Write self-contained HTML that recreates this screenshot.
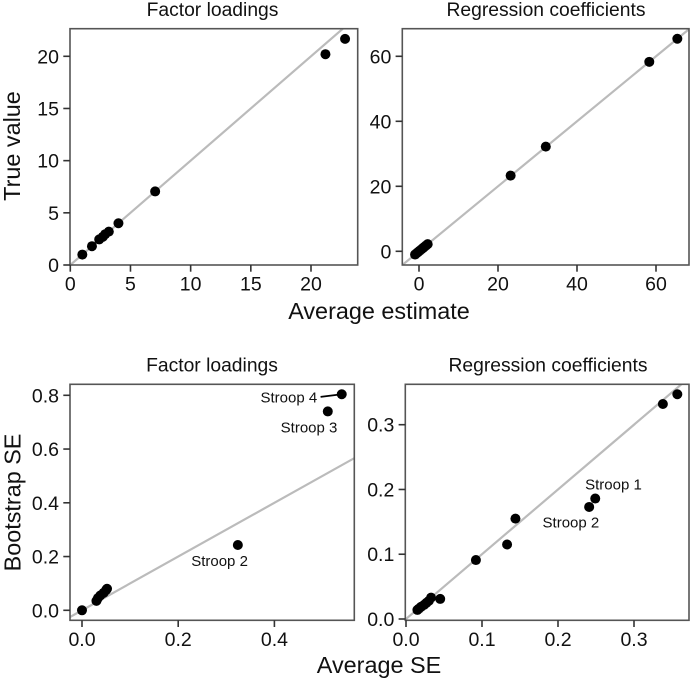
<!DOCTYPE html>
<html lang="en">
<head>
<meta charset="utf-8">
<title>Estimate comparison scatter plots</title>
<style>
html,body{margin:0;padding:0;background:#fff;}
svg{display:block;}
text{font-family:"Liberation Sans",Arial,sans-serif;fill:#111;}
</style>
</head>
<body>
<svg id="chart" xmlns="http://www.w3.org/2000/svg" width="690" height="681" viewBox="0 0 690 681">
<rect width="690" height="681" fill="#fff"/>
<text x="20" y="146" transform="rotate(-90 20 146)" text-anchor="middle" font-size="23.4">True value</text>
<text x="379" y="319" text-anchor="middle" font-size="23.4">Average estimate</text>
<text x="20.5" y="502.5" transform="rotate(-90 20.5 502.5)" text-anchor="middle" font-size="23.4">Bootstrap SE</text>
<text x="379" y="673" text-anchor="middle" font-size="23.4">Average SE</text>
</svg>
<script>
const loadingsEstimateX = [1, 1.8, 2.4, 2.7, 2.9, 3.2, 4, 7.05, 21.2, 22.83];
const loadingsEstimateY = [1, 1.8, 2.45, 2.7, 2.95, 3.2, 4, 7.05, 20.2, 21.67];
const loadingsEstimateXTicks = [0, 5, 10, 15, 20];
const loadingsEstimateYTicks = [0, 5, 10, 15, 20];

const coefEstimateX = [-1, -0.6, -0.2, 0.2, 0.6, 1, 1.4, 1.8, 2.2, 23.2, 32.1, 58.3, 65.4];
const coefEstimateY = [-1, -0.6, -0.2, 0.2, 0.6, 1, 1.4, 1.8, 2.2, 23.3, 32.2, 58.3, 65.4];
const coefEstimateXTicks = [0, 20, 40, 60];
const coefEstimateYTicks = [0, 20, 40, 60];

const loadingsSeX = [0, 0.03, 0.033, 0.038, 0.045, 0.05, 0.052, 0.324, 0.511, 0.54];
const loadingsSeY = [0, 0.035, 0.045, 0.055, 0.065, 0.075, 0.08, 0.243, 0.74, 0.804];
const loadingsSeXTicks = ["0.0", "0.2", "0.4"];
const loadingsSeYTicks = ["0.0", "0.2", "0.4", "0.6", "0.8"];
const loadingsSeLabels = ["Stroop 2", "Stroop 3", "Stroop 4"];
const loadingsSeLabelX = [0.286, 0.472, 0.43];
const loadingsSeLabelY = [0.165, 0.661, 0.774];

const coefSeX = [0.015, 0.017, 0.02, 0.024, 0.027, 0.03, 0.033, 0.045, 0.092, 0.133, 0.144, 0.241, 0.249, 0.338, 0.357];
const coefSeY = [0.014, 0.016, 0.019, 0.022, 0.025, 0.028, 0.033, 0.031, 0.091, 0.115, 0.155, 0.173, 0.186, 0.332, 0.347];
const coefSeXTicks = ["0.0", "0.1", "0.2", "0.3"];
const coefSeYTicks = ["0.0", "0.1", "0.2", "0.3"];
const coefSeLabels = ["Stroop 1", "Stroop 2"];
const coefSeLabelX = [0.273, 0.217];
const coefSeLabelY = [0.2, 0.141];

const NS = 'http://www.w3.org/2000/svg';
const svg = document.getElementById('chart');

function make(tag, attrs, parent) {
  const el = document.createElementNS(NS, tag);
  for (const k in attrs) el.setAttribute(k, attrs[k]);
  parent.appendChild(el);
  return el;
}

function linearScale(v0, p0, v1, p1) {
  return function (v) { return p0 + (v - v0) * (p1 - p0) / (v1 - v0); };
}

function drawPanel(cfg) {
  const g = make('g', {}, svg);
  
  
  const sx = cfg.sx, sy = cfg.sy, b = cfg.box;

  const title = make('text', { x: cfg.titleX, y: cfg.titleY, 'text-anchor': 'middle', 'font-size': 19.3 }, g);
  title.textContent = cfg.title;
  
  

  const clipId = cfg.name + '-clip';
  const defs = make('defs', {}, g);
  const clip = make('clipPath', { id: clipId }, defs);
  make('rect', { x: b.l, y: b.t, width: b.r - b.l, height: b.b - b.t }, clip);

  const vL = cfg.invX(b.l), vR = cfg.invX(b.r);
  const ref = make('line', {
    x1: sx(vL), y1: sy(vL), x2: sx(vR), y2: sy(vR),
    stroke: '#bbb', 'stroke-width': 2.2, 'clip-path': 'url(#' + clipId + ')'
  }, g);
  
  

  cfg.xs.forEach(function (x, i) {
    const pt = make('circle', { cx: sx(x), cy: sy(cfg.ys[i]), r: 5, fill: '#000' }, g);
    
    
  });

  const frame = make('rect', {
    x: b.l, y: b.t, width: b.r - b.l, height: b.b - b.t,
    fill: 'none', stroke: '#555', 'stroke-width': 1.6
  }, g);
  
  

  cfg.xTicks.forEach(function (t) {
    const px = sx(Number(t));
    const tick = make('line', { x1: px, y1: b.b, x2: px, y2: b.b + 6.7, stroke: '#333', 'stroke-width': 1.6 }, g);
    
    
    const lab = make('text', { x: px, y: b.b + 25.7, 'text-anchor': 'middle', 'font-size': 19.5 }, g);
    lab.textContent = t;
    
    
  });

  cfg.yTicks.forEach(function (t) {
    const py = sy(Number(t));
    const tick = make('line', { x1: b.l - 6.7, y1: py, x2: b.l, y2: py, stroke: '#333', 'stroke-width': 1.6 }, g);
    
    
    const lab = make('text', { x: b.l - 11, y: py + 7, 'text-anchor': 'end', 'font-size': 19.5 }, g);
    lab.textContent = t;
    
    
  });

  (cfg.labels || []).forEach(function (t, i) {
    const lab = make('text', { x: sx(cfg.labelX[i]), y: sy(cfg.labelY[i]), 'text-anchor': 'middle', 'font-size': 15 }, g);
    lab.textContent = t;
    
    
  });

  return { g: g, sx: sx, sy: sy };
}

function invert(p0, v0, p1, v1) {
  return function (p) { return v0 + (p - p0) * (v1 - v0) / (p1 - p0); };
}

drawPanel({
  name: 'panel-factor-loadings-estimate', title: 'Factor loadings', titleX: 212.5, titleY: 16,
  box: { l: 70, r: 357.7, t: 28.7, b: 265 },
  sx: linearScale(0, 70.3, 20, 311), sy: linearScale(0, 265, 20, 56.3),
  invX: invert(70.3, 0, 311, 20),
  xs: loadingsEstimateX, ys: loadingsEstimateY,
  xTicks: loadingsEstimateXTicks, yTicks: loadingsEstimateYTicks
});

drawPanel({
  name: 'panel-regression-estimate', title: 'Regression coefficients', titleX: 546, titleY: 16,
  box: { l: 402.3, r: 689, t: 28.7, b: 265 },
  sx: linearScale(0, 419, 60, 656), sy: linearScale(0, 251.3, 60, 56.3),
  invX: invert(419, 0, 656, 60),
  xs: coefEstimateX, ys: coefEstimateY,
  xTicks: coefEstimateXTicks, yTicks: coefEstimateYTicks
});

const seLoad = drawPanel({
  name: 'panel-factor-loadings-se', title: 'Factor loadings', titleX: 212, titleY: 371.5,
  box: { l: 70, r: 354.3, t: 384.3, b: 620.3 },
  sx: linearScale(0, 82, 0.4, 274.4), sy: linearScale(0, 610.3, 0.8, 395.3),
  invX: invert(82, 0, 274.4, 0.4),
  xs: loadingsSeX, ys: loadingsSeY,
  xTicks: loadingsSeXTicks, yTicks: loadingsSeYTicks,
  labels: loadingsSeLabels, labelX: loadingsSeLabelX, labelY: loadingsSeLabelY
});

const connector = make('line', {
  x1: seLoad.sx(0.54), y1: seLoad.sy(0.804),
  x2: seLoad.sx(0.496), y2: seLoad.sy(0.794),
  stroke: '#000', 'stroke-width': 1.8
}, seLoad.g);



drawPanel({
  name: 'panel-regression-se', title: 'Regression coefficients', titleX: 548, titleY: 371.5,
  box: { l: 405.3, r: 689, t: 384.3, b: 620.3 },
  sx: linearScale(0, 406, 0.3, 634), sy: linearScale(0, 619, 0.3, 424.7),
  invX: invert(406, 0, 634, 0.3),
  xs: coefSeX, ys: coefSeY,
  xTicks: coefSeXTicks, yTicks: coefSeYTicks,
  labels: coefSeLabels, labelX: coefSeLabelX, labelY: coefSeLabelY
});
</script>
</body>
</html>
